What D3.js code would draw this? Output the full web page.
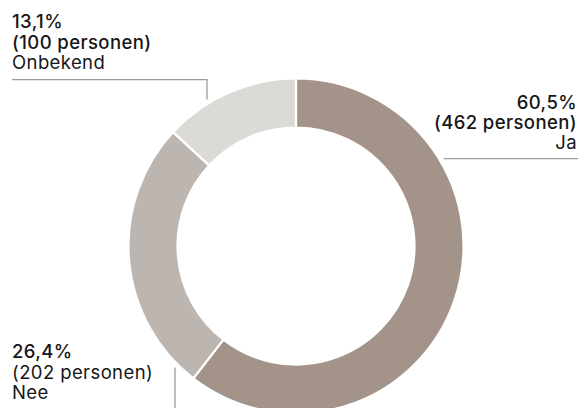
<!DOCTYPE html>
<html>
<head>
<meta charset="utf-8">
<script src="https://cdn.jsdelivr.net/npm/d3@7"></script>
<style>
  html, body { margin: 0; padding: 0; background: #fff; }
  svg { display: block; }
  text { font-family: Inter, "Noto Sans", sans-serif; fill: #161616; letter-spacing: 0.4px; }
</style>
</head>
<body>
<svg id="chart" width="580" height="408"></svg>
<script>
// ---- data ----
const categories = ["Ja", "Nee", "Onbekend"];
const percentages = [60.5, 26.4, 13.1];
const counts = [462, 202, 100];
const colors = ["#a39389", "#bdb5af", "#dcdad5"];

// ---- layout ----
const W = 580, H = 408;
const cx = 296, cy = 246;
const outerR = 167.5, innerR = 118.5;
const fontSize = 18.5, lineH = 20.3;
const leaderGap = 4;

const svg = d3.select("#chart");
const locale = d3.formatLocale({decimal: ",", thousands: ".", grouping: [3], currency: ["€", ""]});
const fmtPct = v => locale.format(".1f")(v) + "%";

const pie = d3.pie().sort(null).value(d => d.value);
const data = categories.map((c, i) => ({cat: c, value: percentages[i], count: counts[i], color: colors[i]}));
const arcs = pie(data);
const arc = d3.arc().innerRadius(innerR).outerRadius(outerR);

const g = svg.append("g").attr("transform", `translate(${cx},${cy})`);
g.selectAll("path").data(arcs).enter().append("path")
  .attr("d", arc)
  .attr("fill", d => d.data.color)
  .attr("stroke", "#fff")
  .attr("stroke-width", 2.2);

// Label layout (per category): anchor, position, leader style
const labelLayout = {
  "Ja":       {x: 577, y: 108.5, anchor: "end",   bold: [true, true, false],  leader: "hRight"},
  "Nee":      {x: 12,  y: 358.3, anchor: "start", bold: [true, false, false], leader: "vDown", lx: 175},
  "Onbekend": {x: 12,  y: 28.3,  anchor: "start", bold: [true, true, false],  leader: "hLeftUp", lx: 207}
};

const rL = outerR + leaderGap;
const lineColor = "#9c9c9c";

data.forEach(d => {
  const L = labelLayout[d.cat];
  const lines = [fmtPct(d.value), "(" + d.count + " personen)", d.cat];
  const t = svg.append("text")
    .attr("x", L.x).attr("y", L.y)
    .attr("text-anchor", L.anchor)
    .style("font-size", fontSize + "px");
  lines.forEach((s, i) => {
    t.append("tspan")
      .attr("x", L.x)
      .attr("y", L.y + i * lineH)
      .style("font-weight", L.bold[i] ? 500 : 400)
      .text(s);
  });
  const lastBase = L.y + 2 * lineH;
  if (L.leader === "hRight") {
    const ly = lastBase + 9.5;
    const x0 = cx + Math.sqrt(rL * rL - (ly - cy) * (ly - cy));
    svg.append("line").attr("x1", x0).attr("x2", W - 2).attr("y1", ly).attr("y2", ly)
      .attr("stroke", lineColor).attr("stroke-width", 1.3);
  } else if (L.leader === "hLeftUp") {
    const ly = lastBase + 10.7;
    const y1 = cy - Math.sqrt(rL * rL - (L.lx - cx) * (L.lx - cx));
    svg.append("path")
      .attr("d", `M${L.x},${ly}H${L.lx}V${y1}`)
      .attr("fill", "none").attr("stroke", lineColor).attr("stroke-width", 1.3);
  } else if (L.leader === "vDown") {
    const y0 = cy + Math.sqrt(rL * rL - (L.lx - cx) * (L.lx - cx));
    svg.append("line").attr("x1", L.lx).attr("x2", L.lx).attr("y1", y0).attr("y2", H)
      .attr("stroke", lineColor).attr("stroke-width", 1.3);
  }
});
</script>
</body>
</html>
